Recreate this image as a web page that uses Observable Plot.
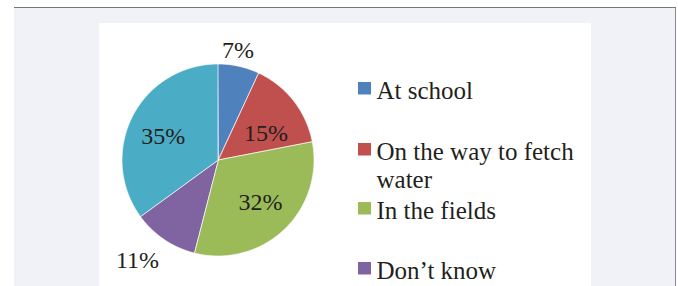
<!DOCTYPE html>
<html><head><meta charset="utf-8">
<script src="https://cdn.jsdelivr.net/npm/d3@7"></script>
<script src="https://cdn.jsdelivr.net/npm/@observablehq/plot@0.6"></script>
<style>
body{margin:0;background:#fff;}
#wrap{position:relative;width:678px;height:286px;overflow:hidden;}
.panel{position:absolute;left:14px;top:7px;width:662px;height:279px;background:#f1f2f7;border-top:1px solid #777;border-right:1px solid #8a8a8a;box-sizing:border-box}
.box{position:absolute;left:99px;top:23px;width:492px;height:263px;background:#fff}
#chart{position:absolute;left:0;top:0}
</style></head><body>
<div id="wrap"><div class="panel"></div><div class="box"></div><div id="chart"></div></div>
<script>
// ---- data ----
const categories = ["At school", "On the way to fetch water", "In the fields", "Don’t know", "Other"];
const values = [7, 15, 32, 11, 35];
const labels = ["7%", "15%", "32%", "11%", "35%"];
const legendLabels = ["At school", "On the way to fetch\nwater", "In the fields", "Don’t know"];
const colors = ["#4f81bd", "#c0504d", "#9bbb59", "#8064a2", "#4bacc6"];

// ---- layout ----
const cx = 218, cy = 160, R = 96;
const labelPolar = [[1.165, 10], [0.57, 60], [0.62, 135], [1.34, 219], [0.63, 294]];
const legendBase = [96, 157, 216, 276];
const labelSize = 24, legendSize = 25;

const arcs = d3.pie().sort(null).value(d => d)(values);
const slicePts = [];
arcs.forEach((a, i) => {
  const n = Math.max(2, Math.ceil((a.endAngle - a.startAngle) / 0.01));
  for (let k = 0; k <= n; k++) {
    const t = a.startAngle + (a.endAngle - a.startAngle) * k / n;
    slicePts.push({cat: categories[i], x: cx + R * Math.sin(t), y: cy - R * Math.cos(t)});
  }
});
const labelData = labels.map((l, i) => {
  const [rf, deg] = labelPolar[i];
  const t = deg * Math.PI / 180;
  return {label: l, x: cx + rf * R * Math.sin(t), y: cy - rf * R * Math.cos(t)};
});
const legendData = legendLabels.map((l, i) => ({cat: categories[i], label: l, b: legendBase[i]}));

const chart = Plot.plot({
  width: 678, height: 286, margin: 0,
  x: {domain: [0, 678], range: [0, 678], axis: null},
  y: {domain: [0, 286], range: [0, 286], axis: null},
  color: {domain: categories, range: colors},
  style: {background: "transparent", fontFamily: "'Liberation Serif', 'Times New Roman', serif"},
  marks: [
    Plot.area(slicePts, {x1: "x", y1: "y", x2: cx, y2: cy, z: "cat", fill: "cat", stroke: "#fff", strokeWidth: 0.8, strokeOpacity: 0.85, curve: "linear"}),
    Plot.text(labelData, {x: "x", y: "y", text: "label", fontSize: labelSize, fill: "#231f20", textAnchor: "middle", lineAnchor: "middle"}),
    Plot.rect(legendData, {x1: () => 358, x2: () => 371, y1: d => d.b - 14, y2: d => d.b - 1.5, fill: "cat"}),
    Plot.text(legendData, {x: () => 376, y: d => d.b - 0.71 * legendSize, text: "label", fontSize: legendSize, fill: "#231f20", textAnchor: "start", lineAnchor: "top", lineHeight: 28 / legendSize})
  ]
});
document.getElementById("chart").appendChild(chart);
</script>
</body></html>
